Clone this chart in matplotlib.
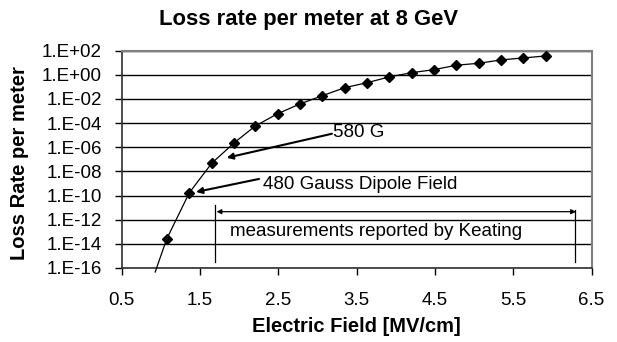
import numpy as np
import matplotlib
matplotlib.use("Agg")
import matplotlib.pyplot as plt
from matplotlib.ticker import FixedLocator, FuncFormatter, NullLocator

plt.rcParams['font.family'] = ['Liberation Sans', 'DejaVu Sans']

# Electric field [MV/cm] and loss rate per meter
field = [0.93, 1.077, 1.366, 1.652, 1.94, 2.208, 2.494, 2.779, 3.064, 3.353,
         3.638, 3.915, 4.205, 4.49, 4.774, 5.064, 5.345, 5.63, 5.915]
log_loss = [-16.33, -13.6, -9.77, -7.33, -5.63, -4.245, -3.23, -2.42, -1.74,
            -1.07, -0.66, -0.19, 0.167, 0.415, 0.78, 0.945, 1.22, 1.385, 1.55]
loss = [10.0 ** v for v in log_loss]

x_ticks = [0.5, 1.5, 2.5, 3.5, 4.5, 5.5, 6.5]
y_exps = [2, 0, -2, -4, -6, -8, -10, -12, -14, -16]

fig = plt.figure(figsize=(6.17, 3.42), dpi=100)
ax = fig.add_axes([121.5 / 617, 1 - 268 / 342, 470 / 617, 217.5 / 342])

ax.plot(field, loss, color='black', lw=0.9, marker='D', ms=5,
        markevery=list(range(1, len(field))), clip_on=False, zorder=3)

ax.set_yscale('log')
ax.set_xlim(0.5, 6.5)
ax.set_ylim(1e-16, 1e2)
ax.xaxis.set_major_locator(FixedLocator(x_ticks))
ax.xaxis.set_major_formatter(FuncFormatter(lambda v, p: f"{v:.1f}"))
ax.yaxis.set_major_locator(FixedLocator([10.0 ** e for e in y_exps]))
ax.yaxis.set_minor_locator(NullLocator())
ax.yaxis.set_major_formatter(FuncFormatter(
    lambda v, p: "1.E%+03d" % int(round(np.log10(v)))))
ax.tick_params(axis='both', direction='out', length=5, width=1,
               colors='black', labelsize=13.5)
ax.tick_params(axis='x', pad=12)
ax.tick_params(axis='y', pad=9)
ax.grid(True, axis='y', color='black', lw=1)
for side in ['top', 'right']:
    ax.spines[side].set_color('#808080')
    ax.spines[side].set_linewidth(1.5)
for side in ['left', 'bottom']:
    ax.spines[side].set_color('#303030')
    ax.spines[side].set_linewidth(1.2)

fig.text(0.5, 1 - 20 / 342, 'Loss rate per meter at 8 GeV', ha='center',
         va='center', fontsize=15.8, fontweight='bold')
ax.set_xlabel('Electric Field [MV/cm]', fontsize=14.5, fontweight='bold',
              va='center')
ax.xaxis.set_label_coords(0.5, -0.271)
ax.set_ylabel('Loss Rate per meter', fontsize=14.5, fontweight='bold',
              va='center')
ax.yaxis.set_label_coords(-0.218, 0.483)

# annotations
arrow = dict(arrowstyle='-|>', color='black', lw=1.5,
             mutation_scale=9, shrinkA=0, shrinkB=0)
ax.annotate('', xy=(1.843, 10 ** -6.88), xytext=(3.186, 10 ** -4.89),
            arrowprops=arrow)
ax.text(3.2, 10 ** -4.8, '580 G', ha='left', va='center', fontsize=13.5)

ax.annotate('', xy=(1.451, 10 ** -9.71), xytext=(2.255, 10 ** -8.63),
            arrowprops=arrow)
ax.text(2.306, 10 ** -9.13, '480 Gauss Dipole Field', ha='left',
        va='center', fontsize=13.5)

ax.annotate('', xy=(6.302, 10 ** -11.34), xytext=(1.713, 10 ** -11.34),
            arrowprops=dict(arrowstyle='<|-|>', color='black', lw=0.9,
                            mutation_scale=7, shrinkA=0, shrinkB=0))
ax.plot([1.694, 1.694], [10 ** -10.78, 10 ** -15.48], color='black', lw=0.9)
ax.plot([6.29, 6.29], [10 ** -11.2, 10 ** -15.48], color='black', lw=0.9)
ax.text(1.885, 1e-13, 'measurements reported by Keating', ha='left',
        va='center', fontsize=13.5)

fig.savefig('out.png', dpi=100)
